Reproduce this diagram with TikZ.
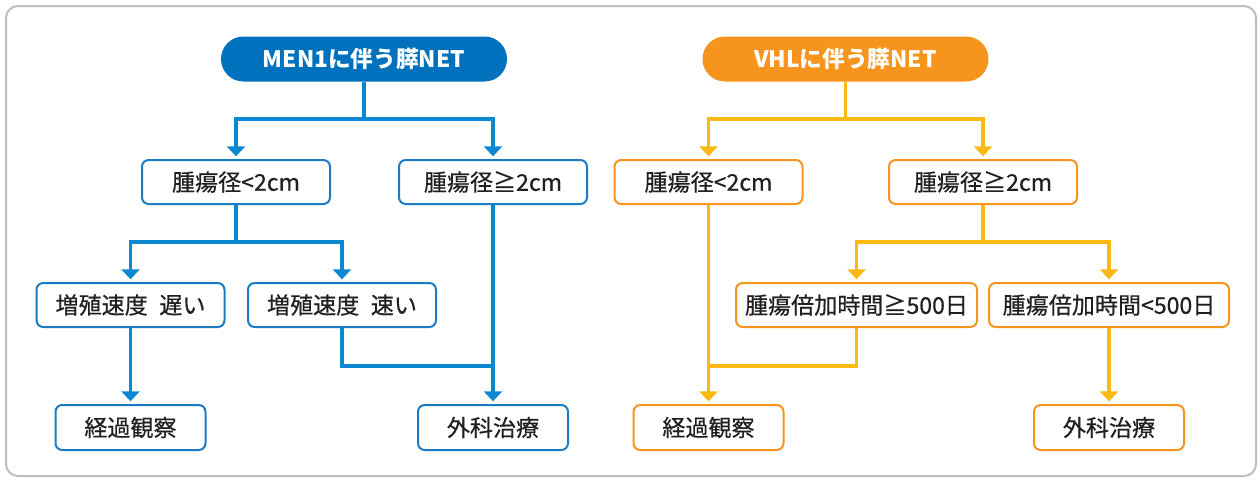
\documentclass[tikz,border=0pt]{standalone}
\usepackage{fontspec}
\setmainfont{Noto Sans CJK JP}
\newfontfamily\boxfont{Noto Sans CJK JP}[FakeBold=0.5]
\usetikzlibrary{arrows.meta}
\definecolor{pillblue}{HTML}{0071BC}
\definecolor{lineblue}{HTML}{0A88D2}
\definecolor{boxblue}{HTML}{1A7CC4}
\definecolor{pillorange}{HTML}{F7941D}
\definecolor{lineorange}{HTML}{FDB913}
\definecolor{boxorange}{HTML}{F7941D}
\definecolor{txtcol}{HTML}{231F20}
\definecolor{framecol}{HTML}{BEBEBE}
\begin{document}
\begin{tikzpicture}[x=0.75pt,y=-0.75pt,
  box/.style={draw, line width=1.5pt, rounded corners=5pt, fill=white, text=txtcol,
    font=\boxfont\fontsize{17.3}{20}\selectfont, minimum height=33pt, inner sep=0pt},
  bbox/.style={box, draw=boxblue},
  obox/.style={box, draw=boxorange},
  pill/.style={rounded corners=16.8pt, minimum width=214.5pt, minimum height=33.75pt,
    inner sep=0pt, text=white, font=\fontsize{17}{20}\selectfont\bfseries},
  conn/.style={line width=2.4pt},
  bl/.style={conn, draw=lineblue},
  ol/.style={conn, draw=lineorange},
  arr/.style={-{Triangle[width=13.5pt,length=7.5pt]}, shorten >=2pt},
]
\useasboundingbox (0,0) rectangle (1260,479);
\draw[framecol, line width=1.5pt, rounded corners=9pt] (6,6) rectangle (1256,476);

% ---------- MEN1 ----------
\node[pill, fill=pillblue] (m0) at (364,59) {MEN1に伴う膵NET};
\node[bbox, minimum width=141pt] (m1) at (236,182) {腫瘍径<2cm};
\node[bbox, minimum width=141pt] (m2) at (493,182) {腫瘍径≧2cm};
\node[bbox, minimum width=141pt] (m3) at (130.5,305) {増殖速度\hspace{0.5em}遅い};
\node[bbox, minimum width=141pt] (m4) at (342,305) {増殖速度\hspace{0.5em}速い};
\node[bbox, minimum width=112.5pt, minimum height=33.75pt] (m5) at (130.5,427.5) {経過観察};
\node[bbox, minimum width=112.5pt, minimum height=33.75pt] (m6) at (493,427.5) {外科治療};

\coordinate (mj0) at (364,119);
\coordinate (mj1) at (236,242);
\coordinate (mj2) at (493,366);

\draw[bl] (m0.south) -- (mj0);
\draw[bl, arr] (mj0) -| (m1.north);
\draw[bl, arr] (mj0) -| (m2.north);
\draw[bl] (m1.south) -- (mj1);
\draw[bl, arr] (mj1) -| (m3.north);
\draw[bl, arr] (mj1) -| (m4.north);
\draw[bl, arr] (m3.south) -- (m5.north);
\draw[bl, arr] (m2.south) -- (m6.north);
\draw[bl] (m4.south) |- (mj2);

% ---------- VHL ----------
\node[pill, fill=pillorange] (v0) at (845.5,59) {VHLに伴う膵NET};
\node[obox, minimum width=141pt] (v1) at (708.5,182) {腫瘍径<2cm};
\node[obox, minimum width=141pt] (v2) at (983,182) {腫瘍径≧2cm};
\node[obox, minimum width=180.75pt] (v3) at (856.5,305) {腫瘍倍加時間≧500日};
\node[obox, minimum width=180pt] (v4) at (1109,305) {腫瘍倍加時間<500日};
\node[obox, minimum width=112.5pt, minimum height=33.75pt] (v5) at (708.5,427.5) {経過観察};
\node[obox, minimum width=112.5pt, minimum height=33.75pt] (v6) at (1109,427.5) {外科治療};

\coordinate (vj0) at (845.5,119);
\coordinate (vj1) at (983,242);
\coordinate (vj2) at (708.5,366);

\draw[ol] (v0.south) -- (vj0);
\draw[ol, arr] (vj0) -| (v1.north);
\draw[ol, arr] (vj0) -| (v2.north);
\draw[ol] (v2.south) -- (vj1);
\draw[ol, arr] (vj1) -| (v3.north);
\draw[ol, arr] (vj1) -| (v4.north);
\draw[ol, arr] (v1.south) -- (v5.north);
\draw[ol, arr] (v4.south) -- (v6.north);
\draw[ol] (v3.south) |- (vj2);
\end{tikzpicture}
\end{document}
